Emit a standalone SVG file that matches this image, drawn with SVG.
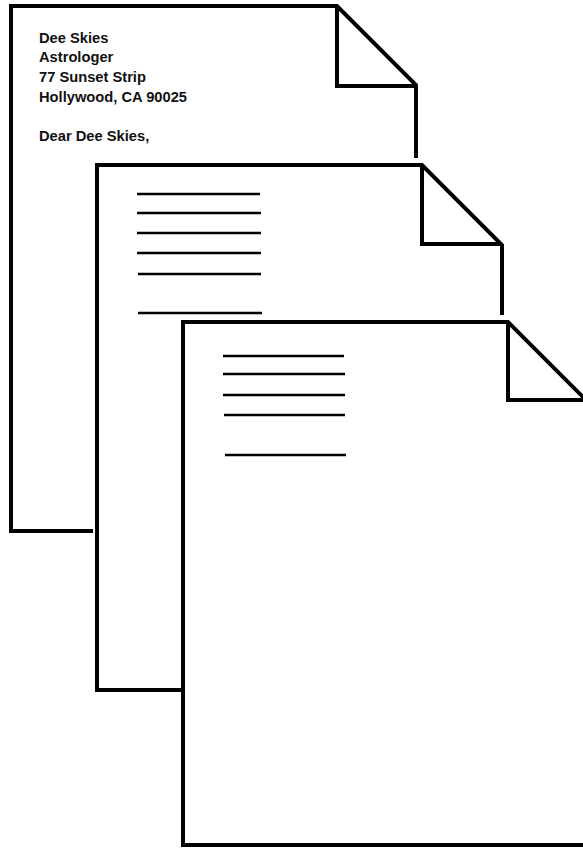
<svg xmlns="http://www.w3.org/2000/svg" width="583" height="848" viewBox="0 0 583 848">
<style>
.edge{fill:none;stroke:#000;stroke-width:4;stroke-linejoin:miter;stroke-linecap:butt}
.rule{fill:none;stroke:#000;stroke-width:2.6;stroke-linecap:butt}
.addr{font-family:"Liberation Sans",Arial,sans-serif;font-weight:bold;font-size:14.7px;fill:#111}
</style>
<rect width="583" height="848" fill="#fff"/>
<g id="page1">
<path class="edge" d="M93,531 H11 V6 H337 L416,85 V158"/>
<path class="edge" d="M337,6 V86 H416"/>
<text class="addr" x="39" y="43">Dee Skies</text>
<text class="addr" x="39" y="62">Astrologer</text>
<text class="addr" x="39" y="82">77 Sunset Strip</text>
<text class="addr" x="39" y="102">Hollywood, CA 90025</text>
<text class="addr" x="39" y="141">Dear Dee Skies,</text>
</g>
<g id="page2">
<path class="edge" d="M182,690 H97 V165 H422 L502,245 V315"/>
<path class="edge" d="M422,165 V244 H502"/>
<path class="rule" d="M137,194 H260 M137,213 H261 M137,233 H261 M137,253 H261 M138,274 H261 M138,313 H262"/>
</g>
<g id="page3">
<path class="edge" d="M183,845 V322 H508 L590,404"/>
<path class="edge" d="M181,845 H590"/>
<path class="edge" d="M508,322 V400 H590"/>
<path class="rule" d="M223,356 H344 M223,374 H345 M223,395 H345 M224,415 H345 M225,455 H346"/>
</g>
<g id="connectors"/>
</svg>
